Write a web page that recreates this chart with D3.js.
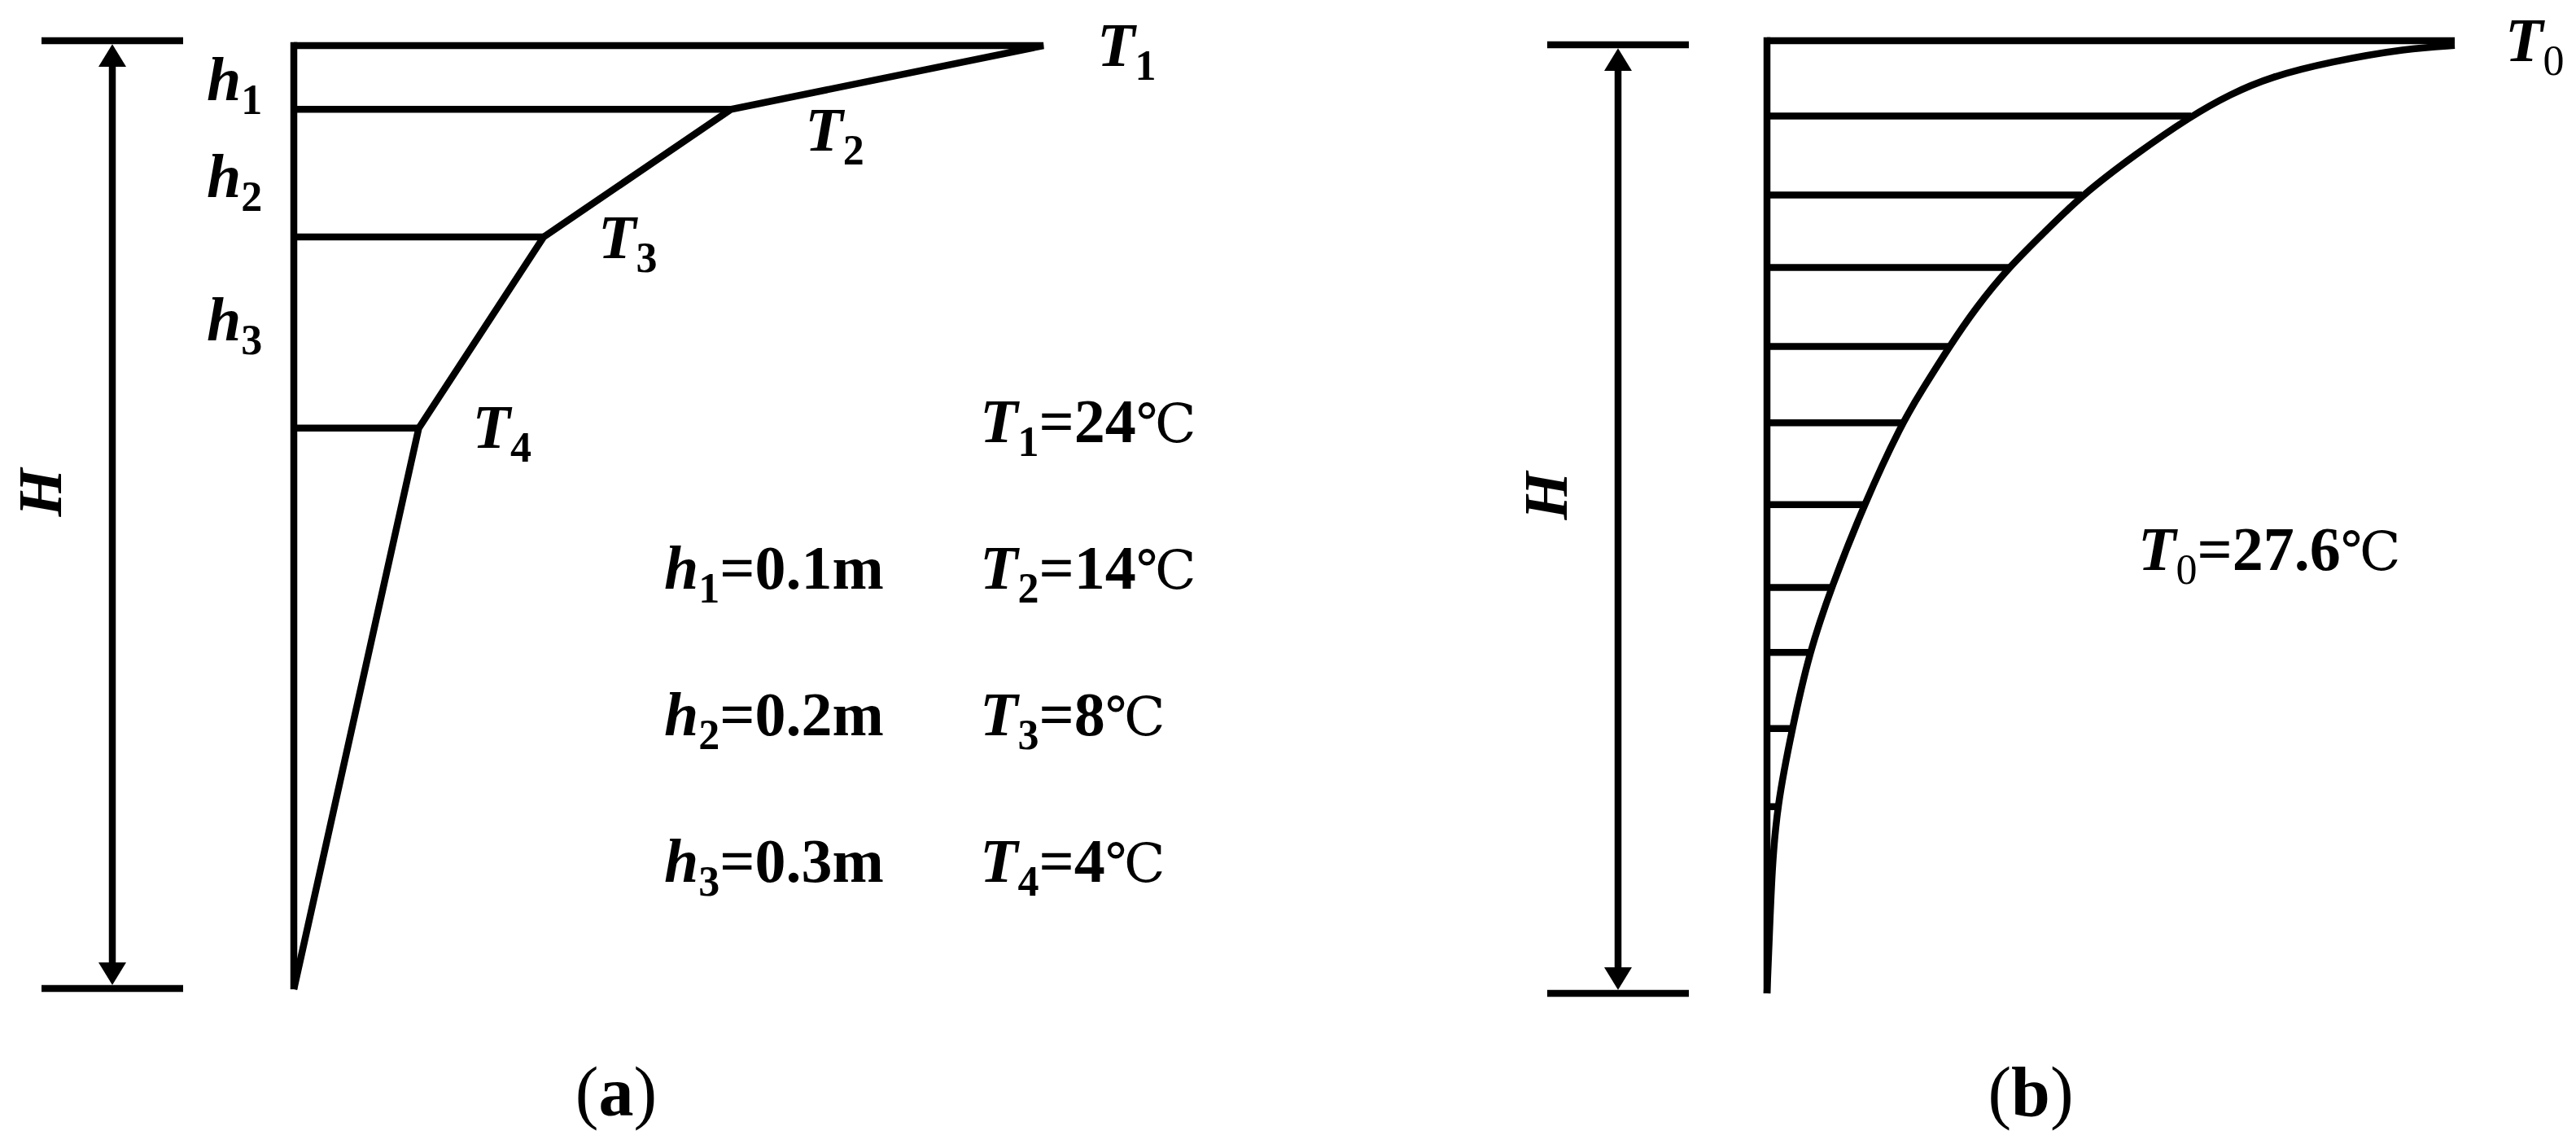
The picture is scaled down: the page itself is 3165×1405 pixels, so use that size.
<!DOCTYPE html>
<html>
<head>
<meta charset="utf-8">
<script src="https://cdn.jsdelivr.net/npm/d3@7"></script>
<style>
  body { margin: 0; background: #fff; }
  text { font-family: "Liberation Serif", "Times New Roman", serif; fill: #000; }
</style>
</head>
<body>
<svg width="3165" height="1405"></svg>
<script>
// ---- panel (a): layered temperature profile ----
let layerTemps = [24, 14, 8, 4];        // T1..T4 in degC
let layerDepths = [0, 0.1, 0.3, 0.6];   // depth of each interface, m
let layerThick = ["0.1", "0.2", "0.3"]; // h1..h3, m
let totalDepth = 1.48;                  // H (schematic, as drawn)

// ---- panel (b): continuous profile, depth as a fraction of H ----
let surfaceTemp = 27.6;
let curveDepth = [0.005, 0.008, 0.022, 0.038, 0.056, 0.079, 0.119, 0.162, 0.201, 0.238, 0.280,
                  0.321, 0.366, 0.401, 0.487, 0.574, 0.642, 0.722, 0.804, 0.870, 0.950, 1.0];
let curveTemp  = [27.6, 25.7, 22.6, 20.2, 18.6, 17.02, 14.80, 12.64, 11.14, 9.70, 8.39,
                  7.32, 6.24, 5.42, 3.89, 2.58, 1.70, 1.01, 0.40, 0.20, 0.08, 0];
let hatchDepth = [0.079, 0.162, 0.238, 0.321, 0.401, 0.487, 0.574, 0.642, 0.722, 0.804];
let hatchTemp  = [17.02, 12.64, 9.70, 7.32, 5.42, 3.89, 2.58, 1.70, 1.01, 0.36];

let svg = d3.select("svg");
svg.append("rect").attr("width", 3165).attr("height", 1405).attr("fill", "#fff");

let stroke = 8.5;

// text with italic letters, subscripts and a plain degree sign
let richText = function(g, x, y, parts, size) {
  size = size || 76;
  let subSize = Math.round(size * 0.68);
  let shift = Math.round(size * 0.22);
  let t = g.append("text").attr("x", x).attr("y", y).attr("font-size", size);
  let inSub = false;
  parts.forEach(function(p) {
    let s = t.append("tspan").text(p.t)
      .attr("font-style", p.i ? "italic" : "normal")
      .attr("font-weight", p.w || "bold");
    if (p.f) s.style("font-family", p.f);
    if (p.size) s.attr("font-size", p.size);
    if (p.sub) {
      s.attr("font-size", subSize);
      if (!inSub) s.attr("dy", shift);
      inSub = true;
    } else if (inSub) {
      s.attr("dy", -shift);
      inSub = false;
    }
  });
  return t;
};
let degC = {t: "\u2103", w: "normal", size: 66, f: "'DejaVu Serif', 'Liberation Serif', serif"};

// dimension line with two arrowheads and end ticks
let dimension = function(g, x, yTop, yBot) {
  let aw = 17, al = 30;
  g.append("line").attr("x1", x - 87).attr("x2", x + 87).attr("y1", yTop).attr("y2", yTop)
    .attr("stroke", "#000").attr("stroke-width", stroke);
  g.append("line").attr("x1", x - 87).attr("x2", x + 87).attr("y1", yBot).attr("y2", yBot)
    .attr("stroke", "#000").attr("stroke-width", stroke);
  g.append("line").attr("x1", x).attr("x2", x).attr("y1", yTop + al).attr("y2", yBot - al)
    .attr("stroke", "#000").attr("stroke-width", stroke);
  g.append("path")
    .attr("d", "M" + x + "," + (yTop + stroke / 2) + "L" + (x - aw) + "," + (yTop + al + 2) + "L" + (x + aw) + "," + (yTop + al + 2) + "Z");
  g.append("path")
    .attr("d", "M" + x + "," + (yBot - stroke / 2) + "L" + (x - aw) + "," + (yBot - al - 2) + "L" + (x + aw) + "," + (yBot - al - 2) + "Z");
};

// ================= panel (a) =================
let gA = svg.append("g").attr("id", "panel-a");

let xA = d3.scaleLinear().domain([0, d3.max(layerTemps)]).range([361, 1282]);
let yA = d3.scaleLinear().domain([0, totalDepth]).range([56, 1215]);

let profileA = layerTemps.map(function(t, i) { return [t, layerDepths[i]]; });
profileA.push([0, totalDepth]);

let lineA = d3.line()
  .x(function(d) { return xA(d[0]); })
  .y(function(d) { return yA(d[1]); });

// vertical axis
gA.append("line").attr("x1", xA(0)).attr("x2", xA(0))
  .attr("y1", yA(0) - stroke / 2).attr("y2", yA(totalDepth))
  .attr("stroke", "#000").attr("stroke-width", stroke);

// surface line -> T1 -> ... -> T4 -> bottom
gA.append("path")
  .attr("d", lineA([[0, 0]].concat(profileA)))
  .attr("fill", "none").attr("stroke", "#000").attr("stroke-width", stroke)
  .attr("stroke-linejoin", "miter").attr("stroke-miterlimit", 4);

// horizontal interface lines
gA.selectAll("line.layer")
  .data(profileA.slice(1, 4))
  .enter().append("line")
  .attr("class", "layer")
  .attr("x1", xA(0)).attr("x2", function(d) { return xA(d[0]); })
  .attr("y1", function(d) { return yA(d[1]); }).attr("y2", function(d) { return yA(d[1]); })
  .attr("stroke", "#000").attr("stroke-width", stroke);

// T labels near the vertices
let labelOff = [[66, 25], [91, 51], [67, 26], [66, 24]];
profileA.slice(0, 4).forEach(function(d, i) {
  richText(gA, xA(d[0]) + labelOff[i][0], yA(d[1]) + labelOff[i][1],
    [{t: "T", i: true}, {t: String(i + 1), sub: true}]);
});

// h labels beside the layers
let hOff = [28, 29, 10];
layerThick.forEach(function(h, i) {
  let mid = (yA(layerDepths[i]) + yA(layerDepths[i + 1])) / 2;
  richText(gA, 254, mid + hOff[i], [{t: "h", i: true}, {t: String(i + 1), sub: true}]);
});

// values block
layerTemps.forEach(function(t, i) {
  richText(gA, 1204, 543 + i * 180,
    [{t: "T", i: true}, {t: String(i + 1), sub: true}, {t: "=" + t}, degC]);
});
layerThick.forEach(function(h, i) {
  richText(gA, 816, 723 + i * 180,
    [{t: "h", i: true}, {t: String(i + 1), sub: true}, {t: "=" + h + "m"}]);
});

dimension(gA, 138, 50, 1214);
gA.append("text").attr("transform", "translate(75,605) rotate(-90)")
  .attr("text-anchor", "middle").attr("font-size", 76)
  .attr("font-style", "italic").attr("font-weight", "bold").text("H");

richText(gA, 0, 1370, [{t: "(", w: "normal"}, {t: "a"}, {t: ")", w: "normal"}], 86)
  .attr("x", 757).attr("text-anchor", "middle");

// ================= panel (b) =================
let gB = svg.append("g").attr("id", "panel-b");

let xB = d3.scaleLinear().domain([0, surfaceTemp]).range([2171, 3016]);
let yB = d3.scaleLinear().domain([0, 1]).range([50, 1220]);

// vertical axis and surface line
gB.append("line").attr("x1", xB(0)).attr("x2", xB(0))
  .attr("y1", yB(0) - stroke / 2).attr("y2", yB(1))
  .attr("stroke", "#000").attr("stroke-width", stroke);
gB.append("line").attr("x1", xB(0)).attr("x2", xB(surfaceTemp))
  .attr("y1", yB(0)).attr("y2", yB(0))
  .attr("stroke", "#000").attr("stroke-width", stroke);

// hatch lines under the curve
gB.selectAll("line.hatch")
  .data(hatchDepth)
  .enter().append("line")
  .attr("class", "hatch")
  .attr("x1", xB(0)).attr("x2", function(d, i) { return xB(hatchTemp[i]); })
  .attr("y1", function(d) { return yB(d); }).attr("y2", function(d) { return yB(d); })
  .attr("stroke", "#000").attr("stroke-width", stroke);

// temperature curve
let lineB = d3.line()
  .x(function(d) { return xB(d[1]); })
  .y(function(d) { return yB(d[0]); })
  .curve(d3.curveBasis);

gB.append("path")
  .attr("d", lineB(curveDepth.map(function(d, i) { return [d, curveTemp[i]]; })))
  .attr("fill", "none").attr("stroke", "#000").attr("stroke-width", stroke);

richText(gB, 3078, 75, [{t: "T", i: true}, {t: "0", sub: true, w: "normal"}]);
richText(gB, 2627, 700,
  [{t: "T", i: true}, {t: "0", sub: true, w: "normal"}, {t: "=" + surfaceTemp}, degC]);

dimension(gB, 1988, 55, 1220);
gB.append("text").attr("transform", "translate(1925,609) rotate(-90)")
  .attr("text-anchor", "middle").attr("font-size", 76)
  .attr("font-style", "italic").attr("font-weight", "bold").text("H");

richText(gB, 0, 1370, [{t: "(", w: "normal"}, {t: "b"}, {t: ")", w: "normal"}], 86)
  .attr("x", 2495).attr("text-anchor", "middle");
</script>
</body>
</html>
